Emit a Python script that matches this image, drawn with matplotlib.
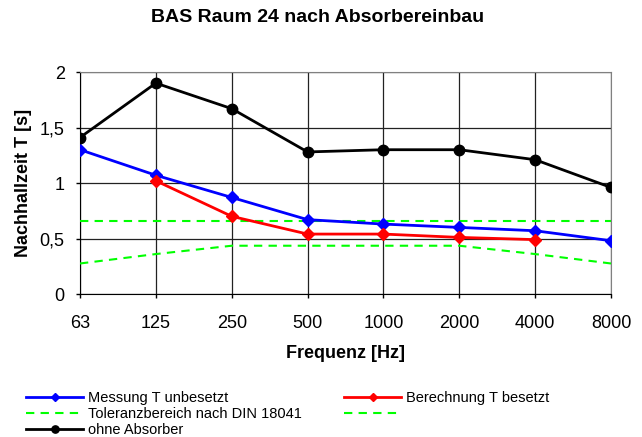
import matplotlib.pyplot as plt
from matplotlib.ticker import FuncFormatter

plt.rcParams['font.family'] = ['Liberation Sans', 'DejaVu Sans']

freqs = ["63", "125", "250", "500", "1000", "2000", "4000", "8000"]
messung = [1.30, 1.07, 0.87, 0.67, 0.63, 0.60, 0.57, 0.48]
berechnung = [None, 1.02, 0.70, 0.54, 0.54, 0.51, 0.49, None]
tol_oben = [0.66, 0.66, 0.66, 0.66, 0.66, 0.66, 0.66, 0.66]
tol_unten = [0.275, 0.36, 0.435, 0.435, 0.435, 0.435, 0.36, 0.275]
ohne = [1.41, 1.90, 1.67, 1.28, 1.30, 1.30, 1.21, 0.96]

x = list(range(len(freqs)))
b_x = [i for i, v in zip(x, berechnung) if v is not None]
b_y = [v for v in berechnung if v is not None]

fig = plt.figure(figsize=(6.42, 4.37), dpi=100)
ax = fig.add_axes([0.1246, 0.3272, 0.8271, 0.508])

dash = (0, (4, 3))
l_mess, = ax.plot(x, messung, color='#0000ff', lw=2, marker='D', ms=6.5,
                  label='Messung T unbesetzt', zorder=4)
l_tol, = ax.plot(x, tol_oben, color='#00ff00', lw=1.5, ls=dash,
                 label='Toleranzbereich nach DIN 18041', zorder=3)
l_tol2, = ax.plot(x, tol_unten, color='#00ff00', lw=1.5, ls=dash,
                  label=' ', zorder=3)
l_ohne, = ax.plot(x, ohne, color='black', lw=2, marker='o', ms=7.5,
                  label='ohne Absorber', zorder=4)
l_ber, = ax.plot(b_x, b_y, color='#ff0000', lw=2, marker='D', ms=6.5,
                 label='Berechnung T besetzt', zorder=5)

ax.set_xlim(0, 7)
ax.set_ylim(0, 2)
ax.set_xticks(x)
ax.set_xticklabels(freqs)
ax.set_yticks([0, 0.5, 1, 1.5, 2])
ax.yaxis.set_major_formatter(FuncFormatter(lambda v, p: f"{v:g}".replace('.', ',')))
ax.tick_params(labelsize=13, length=3, width=1, direction='out')
ax.tick_params(axis='x', pad=12)
ax.tick_params(axis='y', pad=8)
ax.grid(True, color='#222222', lw=0.9)
ax.set_axisbelow(True)
for s in ['top', 'right']:
    ax.spines[s].set_color('#808080')
for s in ['left', 'bottom']:
    ax.spines[s].set_color('black')

fig.text(318 / 642, 1 - 17 / 437, 'BAS Raum 24 nach Absorbereinbau',
         fontsize=14, fontweight='bold', ha='center', va='center')
ax.set_xlabel('Frequenz [Hz]', fontsize=13, fontweight='bold', va='center')
ax.xaxis.set_label_coords(0.5, -0.266)
ax.set_ylabel('Nachhallzeit T [s]', fontsize=13, fontweight='bold', va='center')
ax.yaxis.set_label_coords(-0.107, 0.5)

fig.legend(handles=[l_mess, l_tol, l_ohne, l_ber, l_tol2], ncol=2,
           loc='upper left', bbox_to_anchor=(19 / 642, 1 - 384 / 437), frameon=False,
           fontsize=10.5, handlelength=3.9, handletextpad=0.35,
           columnspacing=2.9, labelspacing=0.12, borderpad=0,
           markerscale=0.7)

fig.savefig('out.png', dpi=100)
